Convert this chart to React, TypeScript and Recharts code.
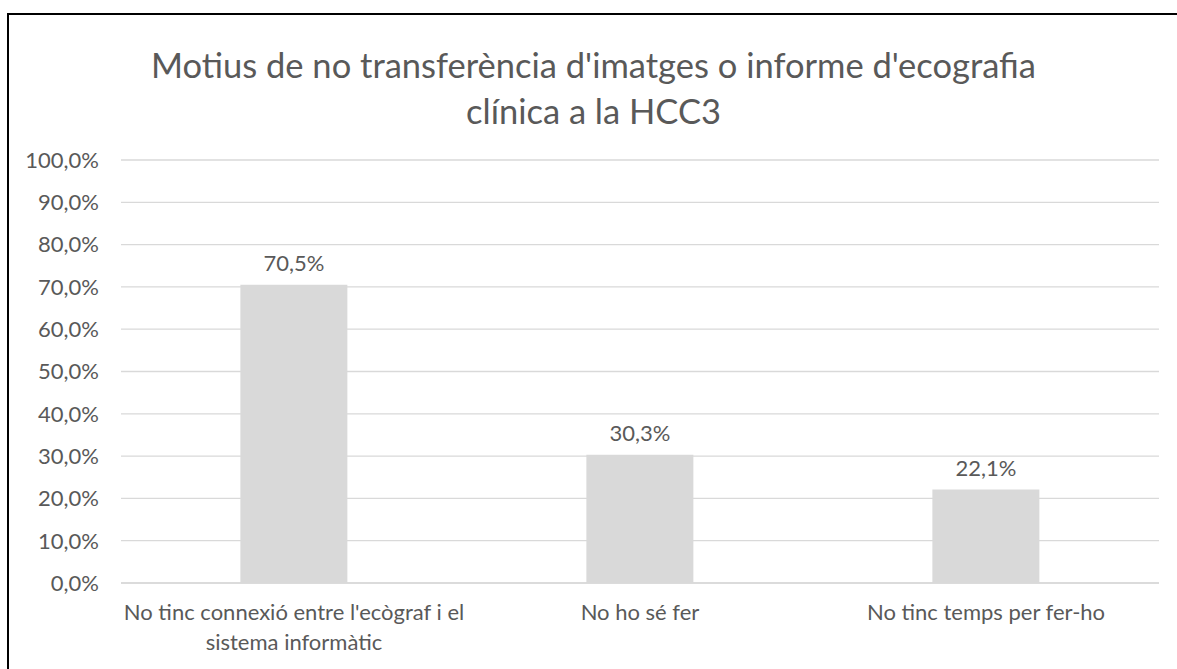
import React from "react";
import { BarChart, Bar, XAxis, YAxis, CartesianGrid, LabelList } from "recharts";

const categories = [
  "No tinc connexió entre l'ecògraf i el sistema informàtic",
  "No ho sé fer",
  "No tinc temps per fer-ho",
];
const percentages = [70.5, 30.3, 22.1];
const yTicks = [0, 10, 20, 30, 40, 50, 60, 70, 80, 90, 100];
const titleLines = [
  "Motius de no transferència d'imatges o informe d'ecografia",
  "clínica a la HCC3",
];

const data = categories.map((name, i) => ({ name, value: percentages[i] }));

const FONT = "Lato, 'Open Sans', sans-serif";
const TEXT = "#595959";
const LABEL_SIZE = 22;

const fmt = (v: number) => `${v.toFixed(1).replace(".", ",")}%`;

// greedy word wrap using canvas text metrics
const wrap = (label: string, maxWidth: number) => {
  const ctx = document.createElement("canvas").getContext("2d");
  if (!ctx) return [label];
  ctx.font = `${LABEL_SIZE}px Lato`;
  const lines: string[] = [];
  let cur = "";
  for (const w of label.split(" ")) {
    const next = cur ? `${cur} ${w}` : w;
    if (cur && ctx.measureText(next).width > maxWidth) {
      lines.push(cur);
      cur = w;
    } else {
      cur = next;
    }
  }
  if (cur) lines.push(cur);
  return lines;
};

const CategoryTick = (props: any) => {
  const { x, y, payload } = props;
  const lines = wrap(String(payload.value), 375);
  return (
    <text
      x={x}
      y={y}
      textAnchor="middle"
      fill={TEXT}
      fontSize={LABEL_SIZE}
      fontFamily={FONT}
    >
      {lines.map((l, i) => (
        <tspan key={i} x={x} y={y + 37 + i * 30}>
          {l}
        </tspan>
      ))}
    </text>
  );
};

export default function App() {
  return (
    <div
      style={{
        position: "absolute",
        left: 0,
        top: 0,
        width: 1177,
        height: 669,
        overflow: "hidden",
        background: "#fff",
      }}
    >
      <div
        style={{
          position: "absolute",
          left: 7,
          top: 13,
          width: 1220,
          height: 720,
          border: "2px solid #000",
          boxSizing: "border-box",
        }}
      />
      {titleLines.map((line, i) => (
        <div
          key={i}
          style={{
            position: "absolute",
            left: 0,
            width: 1187,
            top: 45 + i * 46,
            textAlign: "center",
            fontFamily: FONT,
            fontSize: 34.5,
            lineHeight: "40px",
            color: TEXT,
          }}
        >
          {line}
        </div>
      ))}
      <div style={{ position: "absolute", left: 0, top: 0 }}>
        <BarChart
          width={1177}
          height={669}
          data={data}
          margin={{ top: 160, right: 18, bottom: 56, left: 41 }}
          barCategoryGap="34.5%"
        >
          <CartesianGrid vertical={false} stroke="#d9d9d9" strokeWidth={1.3} />
          <XAxis
            dataKey="name"
            height={30}
            axisLine={{ stroke: "#d9d9d9", strokeWidth: 1.3 }}
            tickLine={false}
            tickSize={0}
            tickMargin={0}
            interval={0}
            tick={<CategoryTick />}
          />
          <YAxis
            width={80}
            domain={[0, 100]}
            ticks={yTicks}
            tickFormatter={fmt}
            axisLine={false}
            tickLine={false}
            tickSize={0}
            tickMargin={22}
            tick={{ fill: TEXT, fontSize: LABEL_SIZE, fontFamily: FONT }}
          />
          <Bar dataKey="value" fill="#d9d9d9" isAnimationActive={false}>
            <LabelList
              dataKey="value"
              position="top"
              offset={14}
              formatter={(v: any) => fmt(Number(v))}
              fill={TEXT}
              fontSize={LABEL_SIZE}
              fontFamily={FONT}
            />
          </Bar>
        </BarChart>
      </div>
    </div>
  );
}
